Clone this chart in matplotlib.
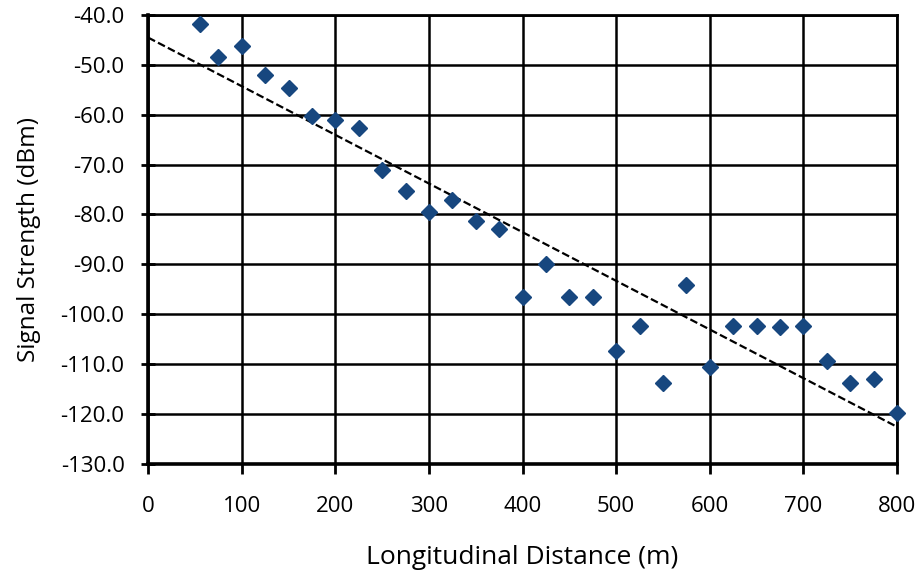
import numpy as np
import matplotlib
matplotlib.use("Agg")
import matplotlib.pyplot as plt

plt.rcParams['font.family'] = ['Open Sans', 'DejaVu Sans']

# distance along the road (m) and measured signal (dBm)
distance = [55, 75, 100, 125, 150, 175, 200, 225, 250, 275, 300, 325, 350, 375,
            400, 425, 450, 475, 500, 525, 550, 575, 600, 625, 650, 675, 700,
            725, 750, 775, 800]
signal = [-41.8, -48.4, -46.2, -52.0, -54.6, -60.2, -61.0, -62.6, -71.1, -75.3,
          -79.5, -77.1, -81.3, -82.9, -96.5, -89.9, -96.5, -96.5, -107.3, -102.3,
          -113.7, -94.1, -110.5, -102.3, -102.3, -102.5, -102.3, -109.3, -113.7,
          -112.9, -119.8]

x_ticks = np.arange(0, 801, 100)
y_ticks = np.arange(-130, -39, 10)

fig = plt.figure(figsize=(9.2, 5.72), dpi=100)
ax = fig.add_axes([0.161, 0.189, 0.814, 0.785])

# linear trendline
k, b = np.polyfit(distance, signal, 1)
xl = np.array([0, 800])
ax.plot(xl, k * xl + b, color='black', ls=(0, (3.5, 1.5)), lw=1.6, zorder=3)

ax.plot(distance, signal, ls='none', marker='D', ms=8.5, color='#17477f',
        zorder=4, clip_on=False)

ax.set_xlim(0, 800)
ax.set_ylim(-130, -40)
ax.set_xticks(x_ticks)
ax.set_yticks(y_ticks)
ax.set_yticklabels([f"{v:.1f}" for v in y_ticks])
ax.grid(True, color='black', lw=1.8)
ax.set_axisbelow(True)

for s in ['top', 'right']:
    ax.spines[s].set_linewidth(2.0)
for s in ['left', 'bottom']:
    ax.spines[s].set_linewidth(2.6)

ax.tick_params(axis='y', direction='inout', length=10, width=2, labelsize=16, pad=12)
ax.tick_params(axis='x', direction='out', length=7, width=2, labelsize=16, pad=16)

ax.set_ylabel('Signal Strength (dBm)', fontsize=17.5, labelpad=14)
ax.set_xlabel('Longitudinal Distance (m)', fontsize=19, labelpad=20)

fig.savefig('out.png', dpi=100)
